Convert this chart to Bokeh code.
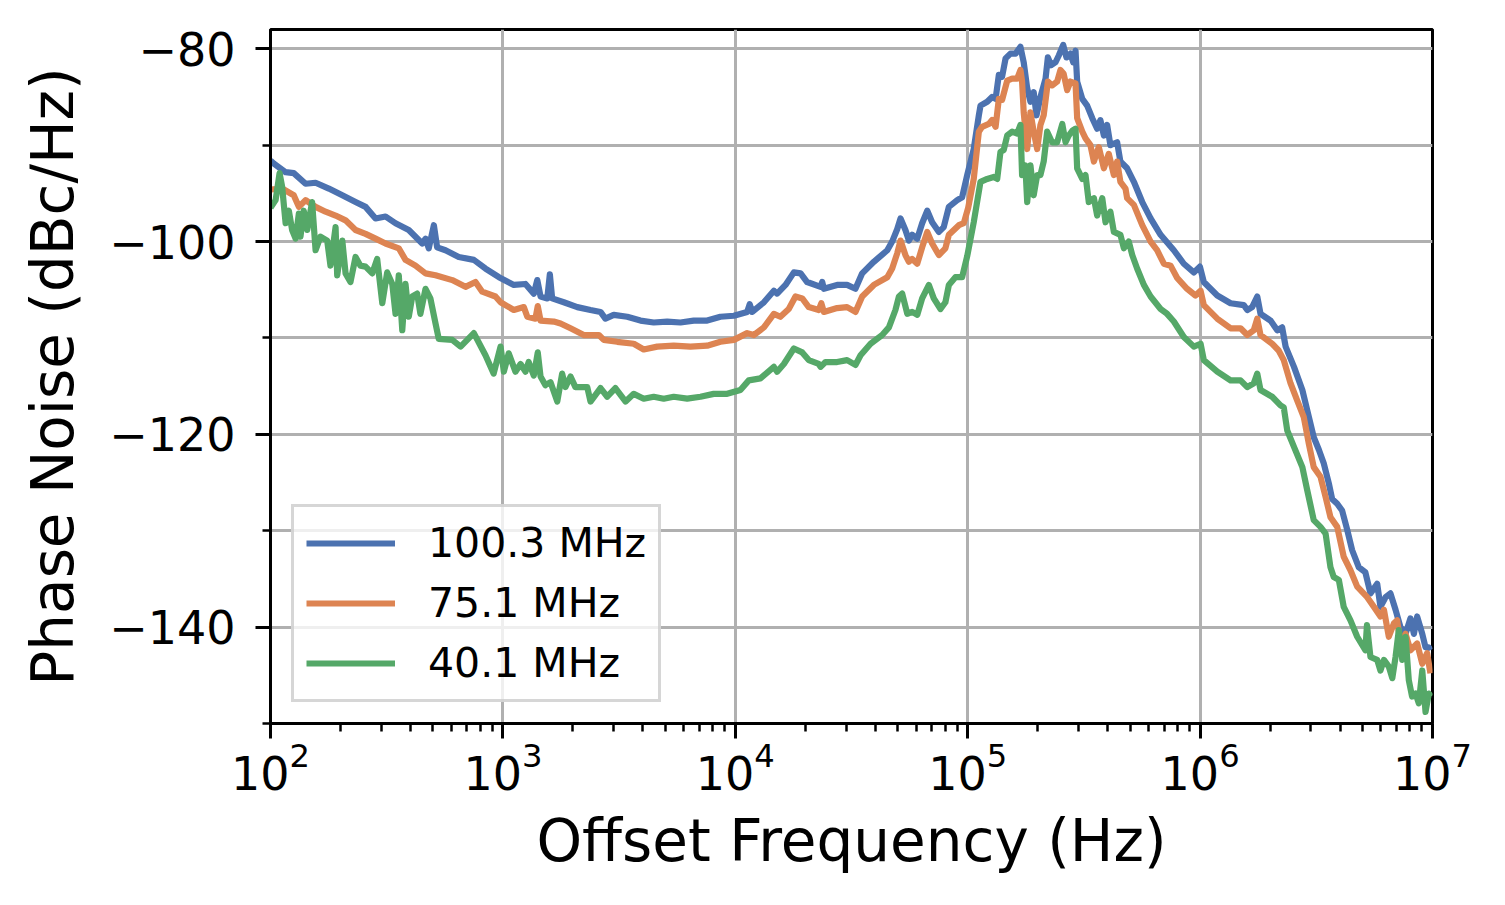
import numpy as np
from bokeh.plotting import figure
from bokeh.models import (Range1d, FixedTicker, Legend, LegendItem,
                          CustomJSTickFormatter, ColumnDataSource)
from bokeh.embed import file_html
from bokeh.resources import INLINE

# ---- data: log10(offset frequency / Hz) and phase noise (dBc/Hz)
labels = ["100.3 MHz", "75.1 MHz", "40.1 MHz"]
colors = ["#4C72B0", "#DD8452", "#55A868"]

blue_logf = [2.000, 2.014, 2.065, 2.100, 2.151, 2.194, 2.251, 2.309, 2.366, 2.409, 2.452, 2.495,
             2.538, 2.595, 2.653, 2.667, 2.681, 2.703, 2.717, 2.753, 2.810, 2.875, 2.925, 2.983,
             3.047, 3.097, 3.133, 3.148, 3.162, 3.191, 3.202, 3.212, 3.262, 3.320, 3.377, 3.420,
             3.441, 3.477, 3.535, 3.592, 3.649, 3.707, 3.764, 3.821, 3.879, 3.936, 3.994, 4.051,
             4.062, 4.073, 4.123, 4.166, 4.180, 4.216, 4.252, 4.281, 4.309, 4.367, 4.374, 4.381,
             4.438, 4.481, 4.517, 4.546, 4.596, 4.654, 4.675, 4.697, 4.711, 4.732, 4.747, 4.761,
             4.783, 4.804, 4.826, 4.847, 4.876, 4.897, 4.919, 4.955, 4.976, 4.998, 5.026, 5.048,
             5.055, 5.084, 5.105, 5.120, 5.134, 5.148, 5.163, 5.184, 5.206, 5.227, 5.241, 5.256,
             5.270, 5.284, 5.296, 5.313, 5.335, 5.345, 5.359, 5.378, 5.392, 5.411, 5.425, 5.442,
             5.454, 5.464, 5.471, 5.493, 5.514, 5.536, 5.557, 5.571, 5.586, 5.600, 5.614, 5.643,
             5.657, 5.686, 5.715, 5.751, 5.787, 5.830, 5.887, 5.930, 5.973, 5.999, 6.016, 6.074,
             6.131, 6.188, 6.203, 6.224, 6.246, 6.260, 6.303, 6.332, 6.353, 6.368, 6.404, 6.440,
             6.468, 6.489, 6.511, 6.532, 6.554, 6.568, 6.590, 6.611, 6.633, 6.654, 6.683, 6.711,
             6.733, 6.762, 6.776, 6.798, 6.819, 6.841, 6.862, 6.884, 6.905, 6.920, 6.934, 6.956,
             6.970, 6.984, 6.991]
blue_db = [-91.6, -91.9, -92.8, -92.9, -94.0, -93.9, -94.5, -95.2, -95.9, -96.4, -97.6, -97.4,
           -98.1, -98.8, -100.2, -99.7, -100.7, -98.3, -100.6, -100.9, -101.6, -101.9, -102.8, -103.7,
           -104.5, -104.4, -105.4, -104.0, -105.7, -105.9, -103.4, -105.9, -106.3, -106.8, -107.1, -107.3,
           -108.0, -107.6, -107.8, -108.2, -108.4, -108.3, -108.4, -108.2, -108.2, -107.8, -107.7, -107.3,
           -106.5, -107.3, -106.3, -105.1, -105.4, -104.5, -103.2, -103.3, -104.2, -104.7, -104.2, -104.9,
           -104.5, -104.5, -104.9, -103.3, -102.1, -100.9, -100.0, -98.7, -97.6, -98.8, -99.9, -99.3,
           -99.7, -98.1, -96.8, -98.0, -99.0, -98.5, -96.4, -95.7, -95.4, -93.1, -90.4, -86.9,
           -85.9, -85.5, -85.0, -85.2, -82.7, -82.9, -81.0, -80.5, -80.5, -79.8, -81.4, -84.1,
           -85.5, -84.5, -86.9, -85.0, -83.1, -80.9, -81.7, -81.4, -80.7, -79.6, -80.9, -80.5,
           -81.4, -80.2, -83.4, -85.2, -85.9, -87.2, -88.3, -87.4, -89.0, -87.9, -90.0, -89.7,
           -91.7, -92.4, -93.8, -95.9, -97.6, -99.3, -100.9, -102.3, -103.2, -102.6, -104.2, -105.6,
           -106.4, -106.6, -107.1, -106.8, -105.7, -107.5, -108.2, -109.2, -108.9, -110.9, -113.0, -115.4,
           -118.2, -120.3, -121.6, -123.0, -125.1, -126.7, -127.2, -127.9, -129.9, -132.0, -133.8, -134.3,
           -136.5, -135.5, -137.9, -136.9, -136.5, -138.2, -140.0, -140.7, -139.1, -140.7, -138.9, -140.7,
           -142.1, -142.1, -142.4]

orange_logf = [2.000, 2.050, 2.100, 2.122, 2.151, 2.194, 2.237, 2.280, 2.323, 2.366, 2.409, 2.452,
               2.495, 2.552, 2.581, 2.624, 2.667, 2.710, 2.782, 2.839, 2.882, 2.911, 2.968, 2.990,
               3.047, 3.090, 3.105, 3.140, 3.150, 3.162, 3.219, 3.248, 3.291, 3.348, 3.413, 3.434,
               3.492, 3.563, 3.606, 3.664, 3.735, 3.807, 3.879, 3.936, 3.994, 4.051, 4.080, 4.123,
               4.166, 4.194, 4.230, 4.259, 4.288, 4.316, 4.359, 4.370, 4.381, 4.438, 4.481, 4.517,
               4.546, 4.596, 4.654, 4.675, 4.697, 4.711, 4.732, 4.747, 4.761, 4.783, 4.804, 4.826,
               4.847, 4.876, 4.904, 4.919, 4.962, 4.983, 5.002, 5.026, 5.048, 5.062, 5.091, 5.105,
               5.120, 5.134, 5.148, 5.170, 5.191, 5.213, 5.227, 5.234, 5.241, 5.256, 5.270, 5.284,
               5.299, 5.313, 5.327, 5.345, 5.363, 5.385, 5.399, 5.413, 5.428, 5.442, 5.464, 5.471,
               5.493, 5.507, 5.528, 5.543, 5.564, 5.586, 5.607, 5.629, 5.643, 5.657, 5.679, 5.686,
               5.715, 5.751, 5.787, 5.815, 5.844, 5.873, 5.902, 5.944, 5.980, 6.002, 6.016, 6.074,
               6.131, 6.174, 6.203, 6.231, 6.246, 6.260, 6.310, 6.338, 6.360, 6.389, 6.418, 6.446,
               6.468, 6.489, 6.518, 6.540, 6.561, 6.590, 6.618, 6.647, 6.676, 6.719, 6.748, 6.776,
               6.791, 6.812, 6.834, 6.848, 6.862, 6.884, 6.905, 6.934, 6.956, 6.977, 6.991]
orange_db = [-94.6, -94.5, -95.2, -96.4, -95.7, -96.4, -96.9, -97.3, -97.8, -98.8, -99.2, -99.7,
             -100.2, -100.7, -101.9, -102.5, -103.3, -103.5, -104.0, -104.7, -104.2, -105.2, -105.7, -106.3,
             -107.1, -106.8, -107.8, -108.0, -106.7, -108.2, -108.3, -108.5, -109.0, -109.7, -109.7, -110.2,
             -110.4, -110.6, -111.2, -110.9, -110.8, -110.9, -110.8, -110.4, -110.2, -109.5, -109.7, -108.9,
             -107.5, -107.8, -107.0, -105.7, -105.9, -106.8, -107.1, -106.4, -107.3, -106.9, -106.8, -107.3,
             -105.7, -104.5, -103.7, -102.8, -101.2, -99.9, -101.4, -102.1, -101.8, -102.3, -100.6, -99.0,
             -100.2, -101.4, -100.7, -99.3, -98.3, -98.1, -96.5, -93.5, -88.6, -88.1, -87.8, -87.4,
             -88.1, -85.2, -85.3, -83.3, -83.1, -83.1, -82.2, -83.4, -86.6, -90.4, -86.6, -88.6,
             -90.4, -87.9, -86.9, -83.4, -83.8, -83.4, -82.2, -82.6, -84.3, -83.4, -83.6, -87.2,
             -88.6, -89.3, -90.0, -91.7, -90.2, -92.4, -90.9, -93.1, -91.7, -93.8, -94.5, -95.5,
             -96.2, -98.3, -100.0, -100.9, -102.3, -102.5, -103.8, -104.9, -105.6, -105.1, -106.6, -108.0,
             -109.0, -109.0, -109.7, -109.2, -108.0, -109.7, -110.6, -111.3, -112.3, -114.7, -116.5, -118.2,
             -121.0, -123.4, -124.4, -126.5, -128.6, -129.6, -132.7, -134.1, -135.8, -136.9, -137.9, -138.9,
             -138.2, -141.0, -139.6, -139.3, -141.7, -140.7, -142.4, -141.7, -143.8, -142.7, -144.8]

green_logf = [2.000, 2.022, 2.039, 2.050, 2.065, 2.079, 2.093, 2.108, 2.122, 2.129, 2.143, 2.158,
              2.179, 2.194, 2.215, 2.244, 2.258, 2.280, 2.287, 2.309, 2.323, 2.344, 2.366, 2.387,
              2.409, 2.438, 2.459, 2.481, 2.502, 2.524, 2.538, 2.552, 2.567, 2.581, 2.595, 2.610,
              2.631, 2.645, 2.667, 2.688, 2.710, 2.724, 2.782, 2.818, 2.875, 2.925, 2.960, 2.990,
              3.004, 3.025, 3.054, 3.076, 3.097, 3.111, 3.133, 3.150, 3.162, 3.183, 3.205, 3.234,
              3.255, 3.269, 3.291, 3.312, 3.363, 3.377, 3.420, 3.449, 3.484, 3.528, 3.563, 3.606,
              3.649, 3.692, 3.735, 3.793, 3.850, 3.907, 3.965, 4.022, 4.058, 4.108, 4.166, 4.180,
              4.209, 4.252, 4.288, 4.316, 4.359, 4.367, 4.388, 4.438, 4.481, 4.517, 4.539, 4.582,
              4.632, 4.661, 4.689, 4.704, 4.718, 4.740, 4.761, 4.783, 4.804, 4.833, 4.854, 4.883,
              4.904, 4.919, 4.947, 4.976, 4.998, 5.026, 5.055, 5.084, 5.112, 5.127, 5.141, 5.155,
              5.170, 5.191, 5.213, 5.227, 5.234, 5.248, 5.256, 5.270, 5.284, 5.299, 5.313, 5.327,
              5.342, 5.363, 5.385, 5.407, 5.421, 5.435, 5.450, 5.464, 5.471, 5.493, 5.507, 5.521,
              5.543, 5.557, 5.579, 5.593, 5.614, 5.629, 5.657, 5.672, 5.693, 5.708, 5.729, 5.758,
              5.787, 5.830, 5.858, 5.887, 5.930, 5.973, 6.002, 6.016, 6.074, 6.131, 6.174, 6.203,
              6.231, 6.246, 6.260, 6.310, 6.346, 6.360, 6.375, 6.404, 6.440, 6.461, 6.489, 6.518,
              6.540, 6.561, 6.575, 6.597, 6.618, 6.647, 6.676, 6.711, 6.718, 6.733, 6.762, 6.776,
              6.791, 6.812, 6.827, 6.841, 6.855, 6.870, 6.884, 6.898, 6.912, 6.927, 6.941, 6.956,
              6.970, 6.984, 6.995]
green_db = [-96.5, -95.7, -92.9, -94.3, -98.1, -96.8, -98.8, -99.7, -97.1, -99.5, -96.8, -98.8,
            -95.9, -100.9, -99.5, -99.9, -102.5, -98.5, -103.5, -99.9, -103.3, -104.2, -101.6, -102.5,
            -102.6, -103.3, -101.8, -106.4, -103.2, -104.4, -107.5, -103.5, -109.2, -104.4, -107.8, -105.7,
            -105.4, -107.5, -104.9, -105.9, -108.5, -110.1, -110.2, -110.9, -109.5, -111.8, -113.7, -110.9,
            -113.5, -111.6, -113.5, -112.7, -113.5, -112.5, -113.9, -111.5, -114.0, -114.9, -114.6, -116.6,
            -113.7, -115.1, -114.0, -115.1, -115.1, -116.6, -115.2, -116.1, -115.2, -116.6, -115.8, -116.3,
            -116.1, -116.3, -116.1, -116.3, -116.1, -115.8, -115.8, -115.4, -114.4, -114.2, -113.0, -113.5,
            -112.7, -111.1, -111.5, -112.3, -112.7, -113.0, -112.5, -112.5, -112.3, -112.8, -111.8, -110.6,
            -109.7, -108.9, -107.1, -105.7, -105.4, -107.5, -107.3, -107.6, -105.9, -104.5, -105.9, -107.0,
            -106.3, -104.5, -103.7, -103.7, -101.5, -98.0, -93.8, -93.5, -93.3, -93.5, -90.7, -90.5,
            -89.0, -88.6, -88.8, -87.9, -93.1, -92.1, -95.9, -92.1, -95.2, -93.1, -93.1, -91.7,
            -88.6, -89.7, -89.7, -87.8, -89.7, -89.0, -88.5, -88.3, -92.4, -93.5, -93.1, -95.9,
            -95.5, -97.3, -95.5, -98.0, -96.9, -99.0, -99.3, -100.7, -100.0, -101.4, -102.8, -104.5,
            -105.7, -107.0, -107.5, -108.3, -109.9, -110.9, -110.6, -112.3, -113.5, -114.4, -114.4, -115.1,
            -114.7, -113.7, -115.4, -116.1, -117.0, -117.2, -119.6, -121.3, -123.4, -125.8, -128.9, -129.6,
            -130.3, -133.8, -134.8, -135.1, -137.9, -139.3, -141.0, -142.4, -139.8, -143.1, -143.4, -144.5,
            -143.4, -144.1, -145.3, -143.1, -140.3, -143.4, -141.0, -145.5, -147.2, -146.9, -147.9, -144.5,
            -148.8, -146.9, -147.2]

x_major = [1e2, 1e3, 1e4, 1e5, 1e6, 1e7]
x_minor = [m * d for d in [1e2, 1e3, 1e4, 1e5, 1e6] for m in range(2, 10)]
y_major = [-140, -120, -100, -80]
y_minor = [-150, -130, -110, -90]

FONT = "DejaVu Sans"

p = figure(x_axis_type="log", x_range=Range1d(1e2, 1e7), y_range=Range1d(-150, -78),
           frame_width=1162, frame_height=694,
           min_border_left=270, min_border_right=65, min_border_top=29, min_border_bottom=174,
           output_backend="svg", toolbar_location=None)
p.background_fill_color = "white"
p.border_fill_color = "white"
p.outline_line_color = "black"
p.outline_line_width = 3

series = [(blue_logf, blue_db), (orange_logf, orange_db), (green_logf, green_db)]
items = []
for (lf, db), lab, col in zip(series, labels, colors):
    src = ColumnDataSource(dict(f=10.0 ** np.array(lf), v=db))
    r = p.line("f", "v", source=src, line_color=col, line_width=6.2, line_join="round")
    items.append(LegendItem(label=lab, renderers=[r]))

# axes
for ax in (p.xaxis[0], p.yaxis[0]):
    ax.axis_line_width = 3
    ax.axis_line_color = "black"
    ax.major_tick_line_width = 3
    ax.minor_tick_line_width = 2.5
    ax.major_tick_out = 15
    ax.major_tick_in = 0
    ax.minor_tick_out = 8
    ax.minor_tick_in = 0
    ax.major_label_text_font = FONT
    ax.major_label_text_font_size = "46px"
    ax.major_label_text_color = "black"
    ax.axis_label_text_font = FONT
    ax.axis_label_text_font_size = "58px"
    ax.axis_label_text_font_style = "normal"
    ax.axis_label_text_color = "black"

p.xaxis.ticker = FixedTicker(ticks=x_major, minor_ticks=x_minor)
p.yaxis.ticker = FixedTicker(ticks=y_major, minor_ticks=y_minor)
p.yaxis.formatter = CustomJSTickFormatter(
    code="return (tick < 0 ? '\\u2212' : '') + Math.abs(tick).toFixed(0);")
p.xaxis.axis_label = "Offset Frequency (Hz)"
p.yaxis.axis_label = "Phase Noise (dBc/Hz)"
p.xaxis.major_label_standoff = 3
p.yaxis.major_label_standoff = 20
p.xaxis.axis_label_standoff = 14
p.yaxis.axis_label_standoff = 19

# grid
p.xgrid.grid_line_color = "#b0b0b0"
p.xgrid.grid_line_width = 3
p.ygrid.grid_line_color = "#b0b0b0"
p.ygrid.grid_line_width = 3
p.ygrid.minor_grid_line_color = "#b0b0b0"
p.ygrid.minor_grid_line_width = 3

legend = Legend(items=items, location="bottom_left", margin=21, padding=12,
                spacing=12, glyph_width=89, glyph_height=40, label_height=40,
                label_standoff=33, label_text_font=FONT, label_text_font_size="41px",
                label_text_color="black",
                border_line_color="#cccccc", border_line_width=3, border_line_alpha=0.8,
                background_fill_color="white", background_fill_alpha=0.8)
p.add_layout(legend)

open("out.html", "w").write(file_html(p, INLINE))
